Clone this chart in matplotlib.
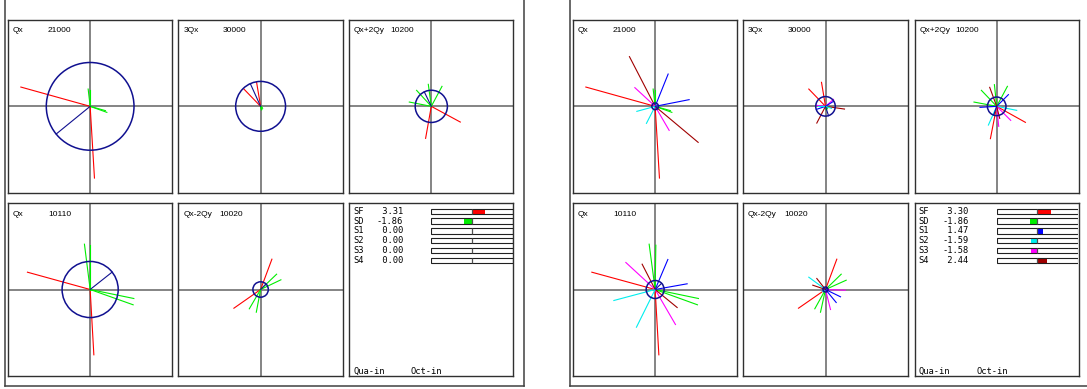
import matplotlib
matplotlib.use('Agg')
import matplotlib.pyplot as plt
from matplotlib.lines import Line2D
from matplotlib.patches import Circle
from matplotlib.transforms import blended_transform_factory
import numpy as np

W, H = 1087, 389

RED = '#ff0000'
GREEN = '#00ee00'
BLUE = '#0000ff'
CYAN = '#00eeee'
MAGENTA = '#ff00ff'
BROWN = '#a00000'
NAVY = '#101090'

term_names = ['Qx', '3Qx', 'Qx+2Qy', 'Qx', 'Qx-2Qy']
term_codes = ['21000', '30000', '10200', '10110', '10020']

# driving term contributions (colour, re, im) - chromatic sextupoles only
base_21000 = [(RED, -69.3, 19.3), (RED, 4.3, -71.7),
              (GREEN, -2.0, 17.3), (GREEN, 0.0, 16.7), (GREEN, 16.7, -6.0), (GREEN, 15.3, -4.3)]
base_30000 = [(RED, -16.7, 17.3), (RED, -4.0, 24.0),
              (GREEN, 1.3, -3.3), (GREEN, 2.0, -2.0), (GREEN, 0.7, -3.5), (GREEN, 1.5, -1.0)]
base_10200 = [(RED, 29.0, -15.7), (RED, -5.7, -32.0),
              (GREEN, -14.7, 16.0), (GREEN, -3.0, 22.0), (GREEN, 10.7, 20.0), (GREEN, -22.0, 4.3)]
base_10110 = [(RED, -62.7, 17.3), (RED, 3.7, -65.3),
              (GREEN, -5.7, 45.3), (GREEN, 0.0, 44.3), (GREEN, 43.7, -9.0), (GREEN, 43.0, -15.3)]
base_10020 = [(RED, 11.3, 30.3), (RED, -26.7, -18.7),
              (GREEN, 16.0, 15.3), (GREEN, 20.3, 9.7), (GREEN, -11.3, -19.3), (GREEN, -4.3, -22.7)]
base_totals = [(-34.0, -27.7), (-10.3, 22.7), (-7.0, 14.5), (22.0, 17.4), (5.4, 5.5)]

# with harmonic sextupoles S1..S4 switched on
corr_21000 = base_21000 + [(BROWN, -25.7, 49.7), (BROWN, 43.0, -36.0),
                           (BLUE, 13.0, 32.3), (BLUE, 34.0, 6.7),
                           (MAGENTA, -20.3, 18.7), (MAGENTA, 14.0, -24.0),
                           (CYAN, -18.3, -5.0), (CYAN, -8.7, -17.0)]
corr_30000 = base_30000 + [(BROWN, 19.0, -2.7), (BROWN, -8.7, -16.7),
                           (MAGENTA, 8.0, 7.0), (MAGENTA, -9.0, 1.0),
                           (BLUE, -9.0, -3.0), (BLUE, 8.0, 5.0),
                           (CYAN, -8.0, 0.0), (CYAN, 6.0, -2.0)]
corr_10200 = [(RED, 28.7, -16.0), (RED, -6.3, -32.3),
              (GREEN, -15.3, 16.0), (GREEN, -2.3, 21.7), (GREEN, 10.7, 20.0), (GREEN, -22.7, 4.3),
              (BLUE, 11.7, 11.7), (BLUE, -16.7, -1.0),
              (CYAN, 20.0, -4.0), (CYAN, -8.3, -18.7),
              (MAGENTA, 14.0, -14.0), (MAGENTA, 2.0, -20.0),
              (BROWN, -7.0, 19.0), (BROWN, 3.0, -12.0)]
corr_10110 = [(RED, -63.3, 17.3), (RED, 3.7, -65.3),
              (GREEN, -6.0, 45.3), (GREEN, 0.7, 44.3), (GREEN, 43.3, -9.0), (GREEN, 42.3, -15.3),
              (BLUE, 12.7, 30.0), (BLUE, 32.0, 5.7),
              (MAGENTA, -29.3, 27.0), (MAGENTA, 20.3, -35.0),
              (BROWN, -13.0, 25.3), (BROWN, 22.0, -18.0),
              (CYAN, -41.3, -11.0), (CYAN, -18.7, -37.7)]
corr_10020 = [(RED, 11.3, 30.3), (RED, -27.0, -18.7),
              (GREEN, 15.7, 15.3), (GREEN, 20.7, 9.3), (GREEN, -10.7, -19.3), (GREEN, -5.0, -22.7),
              (CYAN, -16.7, 12.3), (CYAN, -3.0, -2.0),
              (BROWN, -8.7, 11.0), (BROWN, -12.7, 4.3),
              (MAGENTA, 19.7, -0.7), (MAGENTA, 5.0, -20.0),
              (BLUE, 10.7, -13.0), (BLUE, 15.0, -7.3)]
corr_totals = [(2.3, -2.4), (3.0, -9.3), (-3.0, -8.8), (6.5, 6.2), (1.5, 2.0)]

knobs = ['SF', 'SD', 'S1', 'S2', 'S3', 'S4']
knob_colors = [RED, GREEN, BLUE, CYAN, MAGENTA, BROWN]
strength_before = [3.31, -1.86, 0.00, 0.00, 0.00, 0.00]
strength_after = [3.30, -1.86, 1.47, -1.59, -1.58, 2.44]

code_offsets = [40, 44, 41, 40, 41]

fig = plt.figure(figsize=(W / 100, H / 100), dpi=100)


def px_axes(l, t, r, b):
    return fig.add_axes([l / W, 1 - b / H, (r - l) / W, (b - t) / H])


def frame(ax):
    ax.set_xticks([])
    ax.set_yticks([])
    for s in ax.spines.values():
        s.set_color('#303030')
        s.set_linewidth(1.0)


def draw_term(ax, w, h, vecs, total, name, code, dx):
    ax.set_xlim(-w / 2, w / 2)
    ax.set_ylim(-h / 2, h / 2)
    frame(ax)
    ax.axhline(0, color='#707070', lw=1.2, zorder=1)
    ax.axvline(0, color='#707070', lw=1.2, zorder=1)
    for c, x, y in vecs:
        ax.plot([0, x], [0, y], color=c, lw=0.8, zorder=2)
    r = np.hypot(*total)
    ax.add_patch(Circle((0, 0), r, fill=False, ec=NAVY, lw=1.1, zorder=3))
    ax.plot([0, total[0]], [0, total[1]], color=NAVY, lw=0.8, zorder=3)
    ax.text(4.7 / w, 1 - 10.7 / h, name, transform=ax.transAxes, fontsize=6,
            family='Liberation Sans', va='center', ha='left')
    ax.text(dx / w, 1 - 10.7 / h, code, transform=ax.transAxes, fontsize=6,
            family='Liberation Sans', va='center', ha='left')


def draw_table(l, t, r, b, strengths):
    w, h = r - l, b - t
    box = px_axes(l, t, r, b)
    frame(box)
    bars = px_axes(l + 82, t + 3.1, l + 163.4, t + 3.1 + 6 * 9.8)
    bars.axis('off')
    bars.set_xlim(-10, 10)
    bars.set_ylim(5.5, -0.5)
    rows = np.arange(len(knobs))
    bars.barh(rows, strengths, height=0.55, color=knob_colors, zorder=1)
    bars.barh(rows, [20] * len(rows), left=-10, height=0.55, facecolor='none',
              edgecolor='#202020', lw=0.8, zorder=2)
    bars.vlines(np.zeros(len(rows)), rows - 0.27, rows + 0.27, color='#505050',
                lw=0.9, zorder=2)
    tr = blended_transform_factory(box.transAxes, bars.transData)
    for i, k in enumerate(knobs):
        box.text(4 / w, i, k, transform=tr, fontsize=6.3, family='DejaVu Sans Mono',
                 va='center', ha='left')
        box.text(27.4 / w, i, '%5.2f' % strengths[i], transform=tr, fontsize=6.3,
                 family='DejaVu Sans Mono', va='center', ha='left')
    box.text(4 / w, 4 / h, 'Qua-in', transform=box.transAxes, fontsize=6.3,
             family='DejaVu Sans Mono', va='center', ha='left')
    box.text(61.5 / w, 4 / h, 'Oct-in', transform=box.transAxes, fontsize=6.3,
             family='DejaVu Sans Mono', va='center', ha='left')


def draw_window(lefts, rights, vec_sets, totals, strengths):
    tops, bottoms = [20, 203.3], [192.7, 375.7]
    for k in range(5):
        row, col = divmod(k, 3)
        l, r = lefts[col], rights[col]
        t, b = tops[row], bottoms[row]
        ax = px_axes(l, t, r, b)
        draw_term(ax, r - l, b - t, vec_sets[k], totals[k], term_names[k],
                  term_codes[k], code_offsets[k])
    draw_table(lefts[2], tops[1], rights[2], bottoms[1], strengths)


draw_window([8, 178.5, 349.3], [172.3, 342.7, 513.3],
            [base_21000, base_30000, base_10200, base_10110, base_10020],
            base_totals, strength_before)
draw_window([573, 743.3, 914.7], [737.3, 907.7, 1078.7],
            [corr_21000, corr_30000, corr_10200, corr_10110, corr_10020],
            corr_totals, strength_after)

# window borders
fy = 1 - 385.5 / H
for xs, ys in [([4.7, 4.7], [1, fy]), ([524.3, 524.3], [1, fy]),
               ([4.7, 524.3], [fy, fy]), ([570, 570], [1, fy]),
               ([570, W], [fy, fy])]:
    fig.add_artist(Line2D([x / W for x in xs], ys, color='#404040', lw=1.1))

fig.savefig('out.png', dpi=100)
